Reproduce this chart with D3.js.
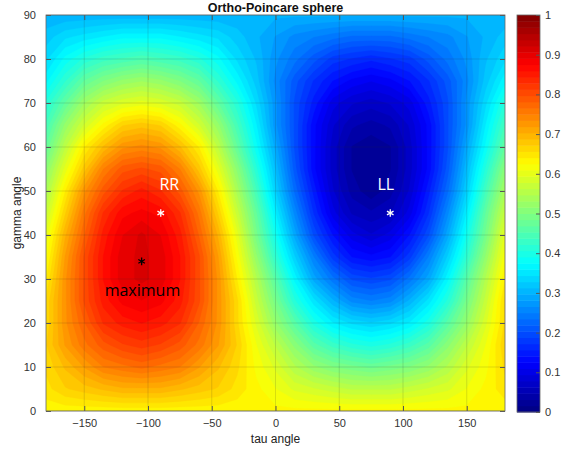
<!DOCTYPE html>
<html lang="en">
<head>
  <meta charset="UTF-8" />
  <title>Ortho-Poincare sphere</title>
  <script src="https://d3js.org/d3.v7.min.js"></script>
  <style>
    * { margin: 0; padding: 0; box-sizing: border-box; }
    body { background: #fff; width: 577px; height: 452px; overflow: hidden; }
    svg { display: block; font-family: 'Liberation Sans', Helvetica, Arial, sans-serif; }
    .tick text { fill: #333; font-size: 11px; }
  </style>
</head>
<body>
  <svg id="chart" width="577" height="452"></svg>

  <script>
    // grid: intensity at tau (cols) x gamma (rows)
    const tauGrid = [-180, -165, -150, -135, -120, -105, -90, -75, -60, -45, -30, -15, 0,
                     15, 30, 45, 60, 75, 90, 105, 120, 135, 150, 165, 180];
    const gammaGrid = [0, 5, 10, 15, 20, 25, 30, 35, 40, 45, 50, 55, 60, 65, 70, 75, 80, 85, 90];
    const intensity = [
      [0.63,0.63,0.63,0.63,0.63,0.63,0.63,0.63,0.63,0.63,0.63,0.63,0.63,0.63,0.63,0.63,0.63,0.63,0.63,0.63,0.63,0.63,0.63,0.63,0.63],
      [0.65,0.67,0.68,0.69,0.70,0.70,0.70,0.69,0.68,0.67,0.65,0.63,0.61,0.59,0.58,0.57,0.56,0.56,0.56,0.57,0.58,0.59,0.61,0.63,0.65],
      [0.66,0.69,0.72,0.75,0.76,0.77,0.76,0.75,0.72,0.69,0.66,0.62,0.59,0.55,0.52,0.50,0.49,0.48,0.49,0.50,0.52,0.55,0.59,0.62,0.66],
      [0.67,0.72,0.76,0.79,0.81,0.82,0.81,0.79,0.76,0.72,0.67,0.61,0.56,0.51,0.46,0.43,0.41,0.40,0.41,0.43,0.46,0.51,0.56,0.61,0.67],
      [0.66,0.73,0.78,0.83,0.85,0.86,0.85,0.83,0.78,0.73,0.66,0.59,0.52,0.46,0.40,0.36,0.34,0.33,0.34,0.36,0.40,0.46,0.52,0.59,0.66],
      [0.66,0.73,0.80,0.85,0.88,0.89,0.88,0.85,0.80,0.73,0.66,0.57,0.49,0.41,0.35,0.30,0.26,0.25,0.26,0.30,0.35,0.41,0.49,0.57,0.66],
      [0.64,0.73,0.80,0.86,0.90,0.91,0.90,0.86,0.80,0.73,0.64,0.55,0.46,0.37,0.29,0.24,0.20,0.19,0.20,0.24,0.29,0.37,0.46,0.55,0.64],
      [0.62,0.72,0.80,0.86,0.90,0.91,0.90,0.86,0.80,0.72,0.62,0.52,0.42,0.33,0.25,0.18,0.14,0.13,0.14,0.18,0.25,0.33,0.42,0.52,0.62],
      [0.60,0.70,0.78,0.85,0.89,0.91,0.89,0.85,0.78,0.70,0.60,0.49,0.39,0.29,0.20,0.14,0.10,0.08,0.10,0.14,0.20,0.29,0.39,0.49,0.60],
      [0.57,0.67,0.76,0.83,0.87,0.88,0.87,0.83,0.76,0.67,0.57,0.47,0.36,0.26,0.17,0.10,0.06,0.05,0.06,0.10,0.17,0.26,0.36,0.47,0.57],
      [0.54,0.64,0.73,0.79,0.83,0.85,0.83,0.79,0.73,0.64,0.54,0.44,0.33,0.23,0.15,0.08,0.04,0.02,0.04,0.08,0.15,0.23,0.33,0.44,0.54],
      [0.51,0.60,0.68,0.75,0.79,0.80,0.79,0.75,0.68,0.60,0.51,0.41,0.31,0.21,0.13,0.07,0.03,0.02,0.03,0.07,0.13,0.21,0.31,0.41,0.51],
      [0.47,0.56,0.64,0.69,0.73,0.74,0.73,0.69,0.64,0.56,0.47,0.38,0.29,0.20,0.13,0.07,0.03,0.02,0.03,0.07,0.13,0.20,0.29,0.38,0.47],
      [0.44,0.52,0.58,0.63,0.67,0.68,0.67,0.63,0.58,0.52,0.44,0.36,0.27,0.20,0.13,0.08,0.05,0.04,0.05,0.08,0.13,0.20,0.27,0.36,0.44],
      [0.41,0.47,0.53,0.57,0.59,0.60,0.59,0.57,0.53,0.47,0.41,0.34,0.27,0.20,0.15,0.10,0.08,0.07,0.08,0.10,0.15,0.20,0.27,0.34,0.41],
      [0.37,0.42,0.47,0.50,0.52,0.53,0.52,0.50,0.47,0.42,0.37,0.32,0.26,0.21,0.17,0.14,0.12,0.11,0.12,0.14,0.17,0.21,0.26,0.32,0.37],
      [0.34,0.38,0.41,0.43,0.44,0.45,0.44,0.43,0.41,0.38,0.34,0.31,0.27,0.24,0.21,0.18,0.17,0.16,0.17,0.18,0.21,0.24,0.27,0.31,0.34],
      [0.32,0.34,0.35,0.36,0.37,0.37,0.37,0.36,0.35,0.34,0.32,0.30,0.28,0.26,0.25,0.24,0.23,0.23,0.23,0.24,0.25,0.26,0.28,0.30,0.32],
      [0.30,0.30,0.30,0.30,0.30,0.30,0.30,0.30,0.30,0.30,0.30,0.30,0.30,0.30,0.30,0.30,0.30,0.30,0.30,0.30,0.30,0.30,0.30,0.30,0.30]
    ];

    const xTicks = [-150, -100, -50, 0, 50, 100, 150];
    const yTicks = [0, 10, 20, 30, 40, 50, 60, 70, 80, 90];
    const cTicks = [0, 0.1, 0.2, 0.3, 0.4, 0.5, 0.6, 0.7, 0.8, 0.9, 1];

    const markTau = [-90, 90, -105];
    const markGamma = [45, 45, 34];
    const markColor = ['#fff', '#fff', '#000'];
    const noteText = ['RR', 'LL', 'maximum'];
    const noteTau = [-91, 80, -134];
    const noteGamma = [51.5, 51.5, 27.3];
    const noteColor = ['#fff', '#fff', '#000'];

    const nLevels = 64;
    const pL = 46, pR = 505, pT = 15, pB = 411;
    const cbX = 517, cbW = 23;

    // matlab jet(64)
    function jet(k) {
      const v = (k + 0.5) / nLevels;
      const f = c => Math.round(255 * Math.max(0, Math.min(1, 1.5 - Math.abs(4 * v - c))));
      return `rgb(${f(3)},${f(2)},${f(1)})`;
    }

    const svg = d3.select('#chart');
    const x = d3.scaleLinear().domain([-180, 180]).range([pL, pR]);
    const y = d3.scaleLinear().domain([0, 90]).range([pB, pT]);

    svg.append('clipPath').attr('id', 'clip')
      .append('rect').attr('x', pL).attr('y', pT)
      .attr('width', pR - pL).attr('height', pB - pT);

    // heat map as stacked iso-bands
    const nx = tauGrid.length, ny = gammaGrid.length;
    const tauStep = tauGrid[1] - tauGrid[0], gammaStep = gammaGrid[1] - gammaGrid[0];
    const flat = intensity.flat();
    const levels = d3.range(nLevels).map(k => k / nLevels);
    const bands = d3.contours().size([nx, ny]).thresholds(levels)(flat);
    const proj = d3.geoTransform({
      point: function (px, py) {
        this.stream.point(x(tauGrid[0] + (px - 0.5) * tauStep), y(gammaGrid[0] + (py - 0.5) * gammaStep));
      }
    });
    const path = d3.geoPath(proj);

    svg.append('g').attr('clip-path', 'url(#clip)')
      .selectAll('path').data(bands).enter().append('path')
      .attr('d', path)
      .attr('fill', (d, i) => jet(i))
      .attr('stroke', (d, i) => jet(i))
      .attr('stroke-width', 0.3);

    // grid
    const grid = svg.append('g').attr('stroke', '#262626').attr('stroke-opacity', 0.15);
    grid.selectAll('.gx').data(xTicks).enter().append('line')
      .attr('x1', d => x(d)).attr('x2', d => x(d)).attr('y1', pT).attr('y2', pB);
    grid.selectAll('.gy').data(yTicks).enter().append('line')
      .attr('y1', d => y(d)).attr('y2', d => y(d)).attr('x1', pL).attr('x2', pR);

    // axes, ticks pointing in
    function styleAxis(g) {
      g.select('.domain').remove();
      g.selectAll('.tick line').attr('stroke', '#555');
    }
    svg.append('g').attr('transform', `translate(0,${pB})`)
      .call(d3.axisBottom(x).tickValues(xTicks).tickSizeInner(-5).tickSizeOuter(0).tickPadding(8))
      .call(styleAxis);
    svg.append('g').attr('transform', `translate(0,${pT})`)
      .call(d3.axisTop(x).tickValues(xTicks).tickSizeInner(-5).tickSizeOuter(0).tickFormat(''))
      .call(styleAxis);
    svg.append('g').attr('transform', `translate(${pL},0)`)
      .call(d3.axisLeft(y).tickValues(yTicks).tickSizeInner(-5).tickSizeOuter(0).tickPadding(10))
      .call(styleAxis);
    svg.append('g').attr('transform', `translate(${pR},0)`)
      .call(d3.axisRight(y).tickValues(yTicks).tickSizeInner(-5).tickSizeOuter(0).tickFormat(''))
      .call(styleAxis);
    svg.selectAll('.tick text').attr('font-family', null).attr('font-size', null);

    svg.append('rect').attr('x', pL).attr('y', pT)
      .attr('width', pR - pL).attr('height', pB - pT)
      .attr('fill', 'none').attr('stroke', '#666').attr('stroke-width', 0.8);

    // markers and notes
    const star = d3.symbol().type(d3.symbolAsterisk).size(40);
    svg.selectAll('.mark').data(markTau).enter().append('path')
      .attr('d', star)
      .attr('transform', (d, i) => `translate(${x(d)},${y(markGamma[i])})`)
      .attr('fill', 'none')
      .attr('stroke', (d, i) => markColor[i])
      .attr('stroke-width', 1.3);

    svg.selectAll('.note').data(noteText).enter().append('text')
      .attr('x', (d, i) => x(noteTau[i]))
      .attr('y', (d, i) => y(noteGamma[i]))
      .attr('dy', '0.35em')
      .attr('fill', (d, i) => noteColor[i])
      .attr('font-family', "'Open Sans', sans-serif")
      .attr('font-size', 16)
      .text(d => d);

    // colorbar
    const c = d3.scaleLinear().domain([0, 1]).range([pB + 1, pT]);
    svg.append('g').selectAll('rect').data(d3.range(nLevels)).enter().append('rect')
      .attr('x', cbX).attr('width', cbW)
      .attr('y', k => c((k + 1) / nLevels))
      .attr('height', k => c(k / nLevels) - c((k + 1) / nLevels) + 0.5)
      .attr('fill', k => jet(k));
    svg.append('g').attr('transform', `translate(${cbX + cbW},0)`)
      .call(d3.axisRight(c).tickValues(cTicks).tickSizeInner(-4).tickSizeOuter(0).tickPadding(5)
        .tickFormat(d3.format('~g')))
      .call(styleAxis);
    svg.selectAll('.tick text').attr('font-family', null).attr('font-size', null);
    svg.append('rect').attr('x', cbX).attr('y', pT)
      .attr('width', cbW).attr('height', pB + 1 - pT)
      .attr('fill', 'none').attr('stroke', '#666').attr('stroke-width', 0.8);

    // labels
    svg.append('text').attr('x', (pL + pR) / 2).attr('y', 12)
      .attr('text-anchor', 'middle').attr('font-weight', 'bold').attr('font-size', 12.5)
      .attr('fill', '#111').text('Ortho-Poincare sphere');
    svg.append('text').attr('x', (pL + pR) / 2).attr('y', 443)
      .attr('text-anchor', 'middle').attr('font-size', 12)
      .attr('fill', '#222').text('tau angle');
    svg.append('text').attr('transform', `translate(21,${(pT + pB) / 2}) rotate(-90)`)
      .attr('text-anchor', 'middle').attr('font-size', 12)
      .attr('fill', '#222').text('gamma angle');
  </script>
</body>
</html>
